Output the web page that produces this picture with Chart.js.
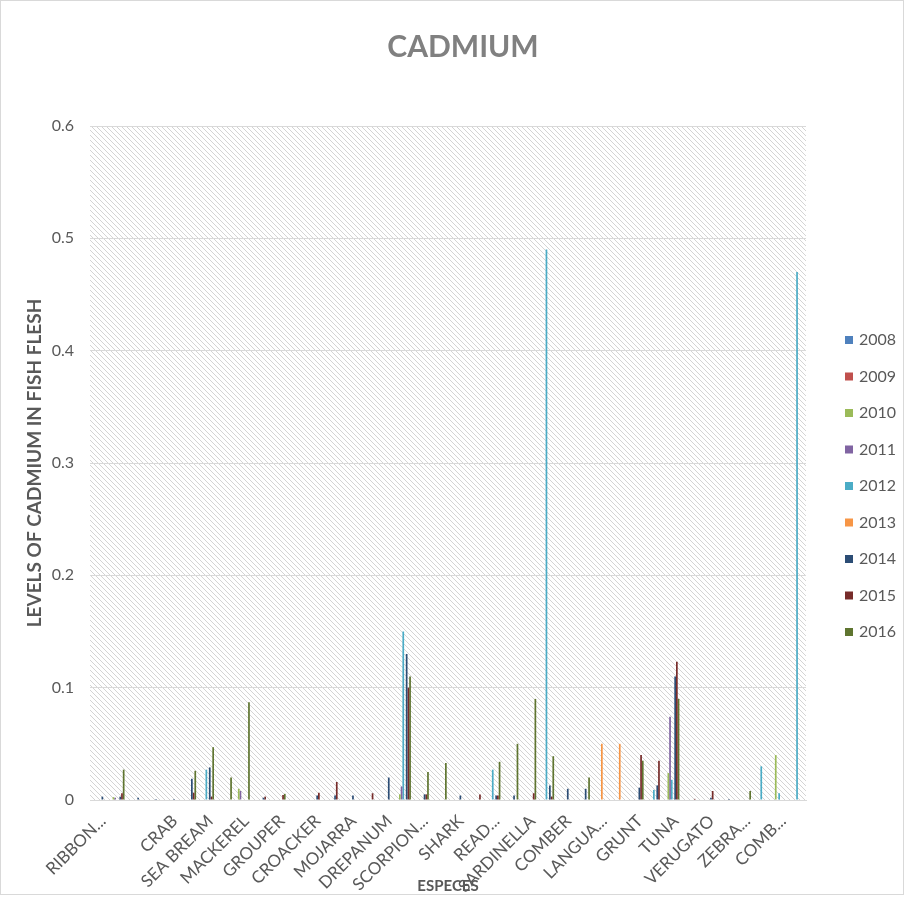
<!DOCTYPE html>
<html>
<head>
<meta charset="utf-8">
<script src="https://cdn.jsdelivr.net/npm/chart.js@4.4.0/dist/chart.umd.min.js"></script>
<style>
  html, body { margin: 0; padding: 0; background: #fff; }
</style>
</head>
<body>
<canvas id="cadmium" width="906" height="898"></canvas>
<script>
// species on the x axis (Excel only printed every other name)
const categories = [
  'RIBBON...', '', '', '', 'CRAB', '', 'SEA BREAM', '', 'MACKEREL', '',
  'GROUPER', '', 'CROACKER', '', 'MOJARRA', '', 'DREPANUM', '', 'SCORPION...', '',
  'SHARK', '', 'READ...', '', 'SARDINELLA', '', 'COMBER', '', 'LANGUA...', '',
  'GRUNT', '', 'TUNA', '', 'VERUGATO', '', 'ZEBRA...', '', 'COMB...', ''
];
const years = ['2008', '2009', '2010', '2011', '2012', '2013', '2014', '2015', '2016'];
const yTicks = ['0', '0.1', '0.2', '0.3', '0.4', '0.5', '0.6'];

const y2008 = [0,0,0,0,0,0,0,0,0,0, 0,0,0,0,0,0,0,0,0,0, 0,0,0,0,0,0,0,0,0,0, 0,0,0,0,0,0,0,0,0,0];
const y2009 = [0,0,0,0,0,0,0,0,0,0, 0,0,0,0,0,0,0,0,0,0, 0,0,0,0,0,0,0,0,0,0, 0,0,0,0,0,0,0,0,0,0];
const y2010 = [0,0.0025,0,0,0,0,0,0,0.010,0, 0,0,0,0,0,0,0,0.005,0,0, 0,0,0,0,0,0,0,0,0,0, 0,0,0.024,0,0,0,0,0,0.040,0];
const y2011 = [0,0.002,0,0,0,0,0,0,0.008,0, 0,0,0,0,0,0,0,0.012,0,0, 0,0,0,0,0,0,0,0,0,0, 0,0,0.074,0,0,0,0,0,0,0];
const y2012 = [0,0,0,0,0,0,0.027,0,0,0, 0,0,0,0,0,0,0,0.150,0,0, 0,0,0.027,0,0,0.490,0,0,0,0, 0,0.009,0.018,0,0,0,0,0.030,0.006,0.470];
const y2013 = [0,0,0,0,0,0,0,0,0,0, 0,0,0,0,0,0,0,0,0,0, 0,0,0,0,0,0,0,0,0.050,0.050, 0,0,0,0,0,0,0,0,0,0];
const y2014 = [0.003,0.003,0.002,0.001,0.001,0.019,0.029,0,0,0.002, 0,0,0.004,0.004,0.004,0,0.020,0.130,0.005,0, 0.004,0,0.004,0.004,0,0.013,0.010,0.010,0,0, 0.011,0.013,0.110,0,0.002,0.001,0,0,0,0];
const y2015 = [0,0.006,0,0,0,0.0065,0.003,0,0,0.003, 0.0045,0,0.0065,0.016,0,0.006,0,0.100,0.005,0, 0,0.005,0.004,0,0.006,0.003,0,0,0,0, 0.040,0.035,0.123,0.001,0.008,0,0,0,0,0];
const y2016 = [0,0.027,0,0,0,0.026,0.047,0.020,0.087,0, 0.0055,0,0,0,0,0,0,0.110,0.025,0.033, 0,0,0.034,0.050,0.090,0.039,0,0.020,0,0, 0.035,0,0.090,0,0,0,0.008,0,0,0];

const series = [y2008, y2009, y2010, y2011, y2012, y2013, y2014, y2015, y2016];
const colors = ['#4F81BD', '#C0504D', '#9BBB59', '#8064A2', '#4BACC6', '#F79646', '#2C4D75', '#772C2A', '#5F7530'];

const FONT = 'Lato';
const textGrey = '#595959';

// light diagonal hatch used as plot area fill
const hatch = document.createElement('canvas');
hatch.width = 5;
hatch.height = 5;
const hctx = hatch.getContext('2d');
hctx.strokeStyle = '#d4d4d4';
hctx.lineWidth = 1;
hctx.beginPath();
hctx.moveTo(-1, -1);
hctx.lineTo(6, 6);
hctx.stroke();

const decor = {
  id: 'decor',
  beforeDraw(chart) {
    const { ctx, chartArea: a } = chart;
    ctx.save();
    ctx.fillStyle = '#fff';
    ctx.fillRect(0, 0, chart.width, chart.height);
    ctx.fillStyle = ctx.createPattern(hatch, 'repeat');
    ctx.fillRect(a.left, a.top, a.right - a.left, a.bottom - a.top);
    ctx.strokeStyle = '#d9d9d9';
    ctx.lineWidth = 1;
    ctx.strokeRect(0.5, 0.5, 903, 894);
    ctx.font = `bold 30px ${FONT}`;
    ctx.fillStyle = '#808080';
    ctx.textAlign = 'center';
    ctx.textBaseline = 'middle';
    ctx.fillText('CADMIUM', 463, 47);
    ctx.restore();
  },
  afterDraw(chart) {
    const { ctx } = chart;
    ctx.save();
    ctx.font = `16px ${FONT}`;
    ctx.textAlign = 'left';
    ctx.textBaseline = 'middle';
    chart.data.datasets.forEach((ds, i) => {
      const y = 340 + i * 36.5;
      ctx.fillStyle = ds.backgroundColor;
      ctx.fillRect(845, y - 4, 8, 8);
      ctx.fillStyle = textGrey;
      ctx.fillText(ds.label, 859, y);
    });
    ctx.restore();
  }
};

new Chart(document.getElementById('cadmium').getContext('2d'), {
  type: 'bar',
  data: {
    labels: categories,
    datasets: years.map((yr, i) => ({
      label: yr,
      data: series[i],
      backgroundColor: colors[i],
      borderWidth: 0
    }))
  },
  options: {
    responsive: false,
    animation: false,
    categoryPercentage: 0.857,
    barPercentage: 1,
    layout: { padding: { top: 126, right: 100, left: 0, bottom: 0 } },
    plugins: {
      legend: { display: false },
      tooltip: { enabled: false }
    },
    scales: {
      x: {
        grid: { display: false, drawTicks: false },
        border: { color: '#d9d9d9' },
        ticks: {
          autoSkip: false,
          minRotation: 45,
          maxRotation: 45,
          padding: 11,
          labelOffset: 4,
          color: textGrey,
          font: { family: FONT, size: 17 }
        },
        title: {
          display: true,
          text: 'ESPECES',
          color: textGrey,
          font: { family: FONT, size: 15, weight: 'bold' },
          padding: { top: 0, bottom: 3 }
        },
        afterFit: s => { s.height = 98; }
      },
      y: {
        min: 0,
        max: 0.6,
        grid: { color: '#d9d9d9', drawTicks: false },
        border: { display: false },
        ticks: {
          stepSize: 0.1,
          padding: 16,
          color: textGrey,
          font: { family: FONT, size: 16 },
          callback: (v, i) => yTicks[i]
        },
        title: {
          display: true,
          text: 'LEVELS OF CADMIUM IN FISH FLESH',
          color: textGrey,
          font: { family: FONT, size: 19, weight: 'bold' },
          padding: { top: 23, bottom: 0 }
        },
        afterFit: s => { s.width = 90; }
      }
    }
  },
  plugins: [decor]
});
</script>
</body>
</html>
